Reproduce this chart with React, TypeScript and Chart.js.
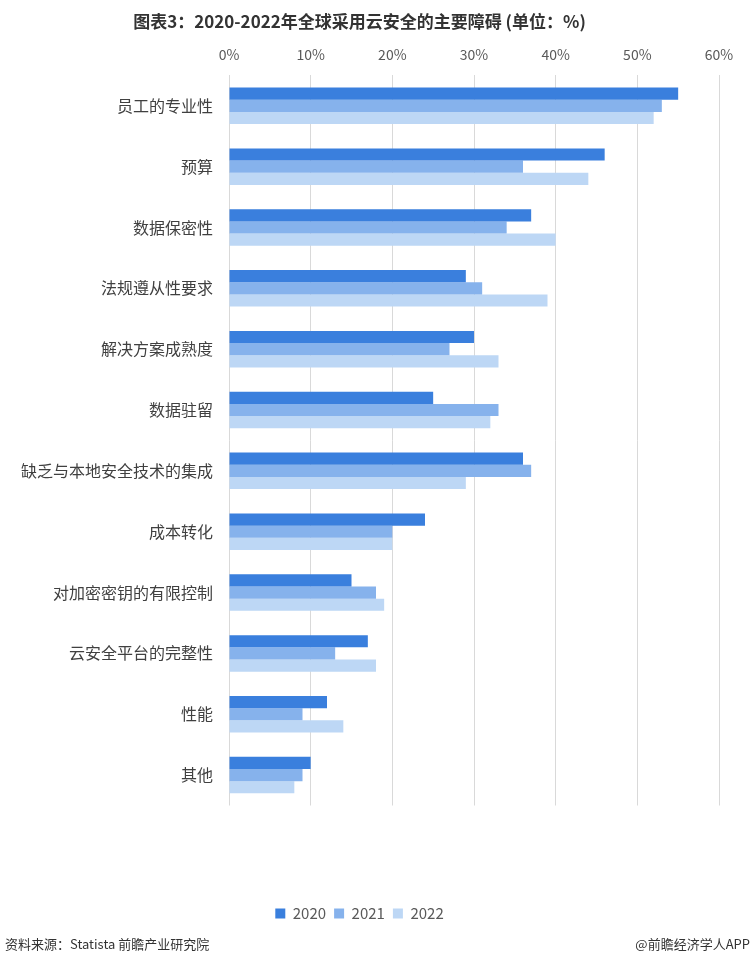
import React, { useEffect, useRef } from "react";
import { Chart, registerables } from "chart.js";

Chart.register(...registerables);

const categories = [
  "员工的专业性",
  "预算",
  "数据保密性",
  "法规遵从性要求",
  "解决方案成熟度",
  "数据驻留",
  "缺乏与本地安全技术的集成",
  "成本转化",
  "对加密密钥的有限控制",
  "云安全平台的完整性",
  "性能",
  "其他",
];

const seriesNames = ["2020", "2021", "2022"];
const values2020 = [55, 46, 37, 29, 30, 25, 36, 24, 15, 17, 12, 10];
const values2021 = [53, 36, 34, 31, 27, 33, 37, 20, 18, 13, 9, 9];
const values2022 = [52, 44, 40, 39, 33, 32, 29, 20, 19, 18, 14, 8];
const seriesColors = ["#3a7fdd", "#86b2ec", "#bdd7f5"];

const titleText = "图表3：2020-2022年全球采用云安全的主要障碍 (单位：%)";
const sourceText = "资料来源：Statista 前瞻产业研究院";
const creditText = "@前瞻经济学人APP";

const FONT = "'Noto Sans CJK SC', 'Noto Sans', sans-serif";

const footerPlugin = {
  id: "footerText",
  afterDraw(chart: any) {
    const ctx = chart.ctx;
    ctx.save();
    ctx.font = `13px ${FONT}`;
    ctx.fillStyle = "#333333";
    ctx.textBaseline = "middle";
    ctx.textAlign = "left";
    ctx.fillText(sourceText, 5, 944);
    ctx.textAlign = "right";
    ctx.fillText(creditText, 750, 944);
    ctx.restore();
  },
};

export default function App() {
  const ref = useRef<HTMLCanvasElement>(null);

  useEffect(() => {
    if (!ref.current) return;
    const data = [values2020, values2021, values2022];
    const chart = new Chart(ref.current, {
      type: "bar",
      data: {
        labels: categories,
        datasets: seriesNames.map((name, i) => ({
          label: name,
          data: data[i],
          backgroundColor: seriesColors[i],
          borderWidth: 0,
          categoryPercentage: 0.6,
          barPercentage: 1.0,
        })),
      },
      options: {
        indexAxis: "y",
        responsive: false,
        animation: false,
        layout: { padding: { left: 0, right: 33, top: 0, bottom: 36 } },
        plugins: {
          title: {
            display: true,
            text: titleText,
            color: "#333333",
            font: { family: FONT, size: 17, weight: "bold", lineHeight: 1.2 },
            padding: { top: 11, bottom: 0 },
          },
          legend: {
            display: true,
            position: "bottom",
            labels: {
              boxWidth: 10,
              boxHeight: 10,
              padding: 8,
              color: "#595959",
              font: { family: FONT, size: 15 },
            },
          },
          tooltip: { enabled: false },
        },
        scales: {
          x: {
            type: "linear",
            position: "top",
            min: 0,
            max: 60,
            ticks: {
              stepSize: 10,
              color: "#595959",
              font: { family: FONT, size: 14 },
              padding: 12,
              callback: (v: any) => `${v}%`,
            },
            grid: { color: "#d9d9d9", drawTicks: false, lineWidth: 1 },
            border: { display: false },
            afterFit: (s: any) => {
              s.height = 44;
            },
          },
          x2: {
            type: "linear",
            position: "bottom",
            display: true,
            ticks: { display: false },
            grid: { display: false, drawTicks: false },
            border: { display: false },
            afterFit: (s: any) => {
              s.height = 92.5;
            },
          },
          y: {
            type: "category",
            ticks: {
              color: "#404040",
              font: { family: FONT, size: 16 },
              padding: 16,
            },
            grid: { display: false, drawTicks: false },
            border: { display: false },
            afterFit: (s: any) => {
              s.width = 229;
            },
          },
        },
      } as any,
      plugins: [footerPlugin],
    });
    return () => chart.destroy();
  }, []);

  return (
    <div style={{ position: "fixed", left: 0, top: 0, width: 752, height: 967, background: "#ffffff" }}>
      <canvas ref={ref} width={752} height={967} style={{ display: "block", width: 752, height: 967 }} />
    </div>
  );
}
